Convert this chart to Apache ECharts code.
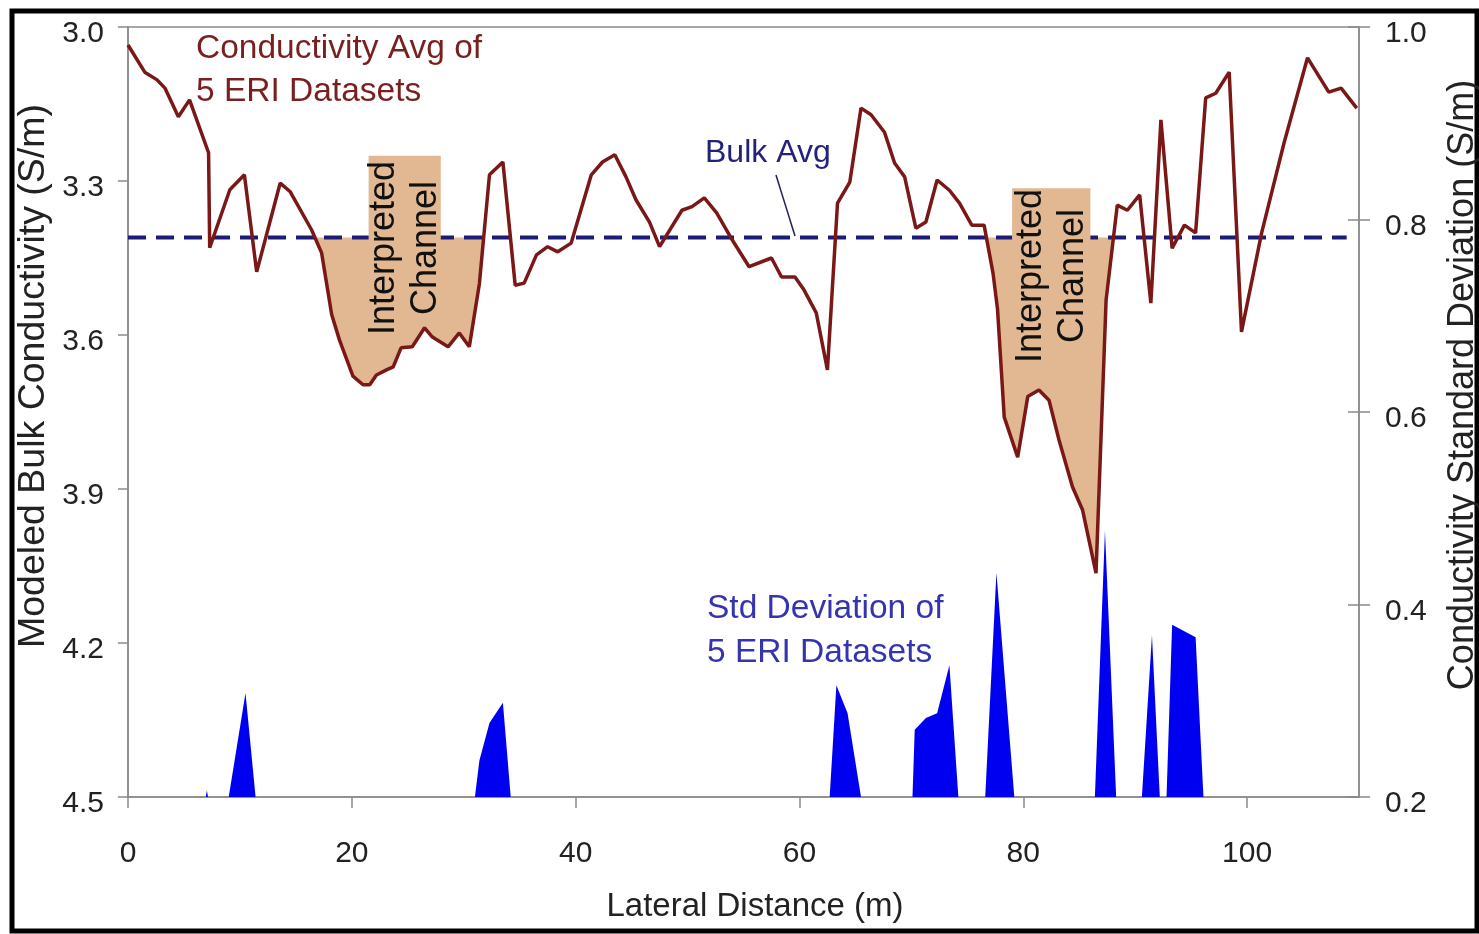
<!DOCTYPE html>
<html>
<head>
<meta charset="utf-8">
<script src="https://cdn.jsdelivr.net/npm/echarts@6/dist/echarts.min.js"></script>
<style>
html,body{margin:0;padding:0;background:#fff}
#main{width:1479px;height:934px}
</style>
</head>
<body>
<div id="main"></div>
<script>
var chart = echarts.init(document.getElementById('main'));

// lateral distance (m) and the averaged conductivity of the 5 ERI datasets
var distX = [0, 1.5, 2.6, 3.3, 4.5, 5.5, 7.2, 7.3, 9.1, 10.4, 11.5, 13.6, 14.5, 16.4, 17.3, 18.2, 18.9, 20.1, 21.0, 21.6,
  22.2, 23.1, 23.7, 24.4, 25.4, 26.5, 27.2, 28.6, 29.6, 30.5, 31.4, 32.3, 33.5, 34.6, 35.4, 36.5, 37.5, 38.4, 39.6, 40.4,
  41.4, 42.4, 43.5, 44.5, 45.4, 46.6, 47.5, 49.5, 50.4, 51.5, 52.6, 54.0, 55.5, 57.5, 58.4, 59.6, 60.4, 61.5, 62.5, 63.4,
  64.5, 65.5, 66.4, 67.6, 68.5, 69.4, 70.4, 71.3, 72.3, 73.4, 74.3, 75.4, 76.5, 77.3, 77.7, 78.3, 79.5, 80.4, 81.4, 82.3,
  83.2, 84.4, 85.3, 86.5, 87.4, 88.4, 89.3, 90.4, 91.4, 92.3, 93.3, 94.4, 95.4, 96.3, 97.2, 98.4, 99.5, 101.3, 103.3, 105.4,
  107.3, 108.4, 109.8];
var condAvg = [3.035, 3.088, 3.103, 3.119, 3.175, 3.142, 3.245, 3.430, 3.317, 3.288, 3.477, 3.304, 3.321, 3.395, 3.44, 3.56, 3.61, 3.68, 3.697, 3.697,
  3.678, 3.668, 3.662, 3.625, 3.623, 3.586, 3.604, 3.623, 3.596, 3.623, 3.50, 3.288, 3.263, 3.503, 3.499, 3.444, 3.428, 3.438, 3.421, 3.362,
  3.288, 3.263, 3.249, 3.292, 3.337, 3.38, 3.428, 3.357, 3.35, 3.333, 3.362, 3.415, 3.467, 3.45, 3.487, 3.487, 3.512, 3.557, 3.668, 3.343,
  3.302, 3.158, 3.171, 3.205, 3.265, 3.292, 3.392, 3.38, 3.298, 3.318, 3.343, 3.386, 3.386, 3.48, 3.55, 3.76, 3.838, 3.72, 3.707, 3.727,
  3.805, 3.896, 3.941, 4.064, 3.532, 3.347, 3.357, 3.327, 3.538, 3.181, 3.431, 3.386, 3.401, 3.138, 3.129, 3.088, 3.594, 3.401, 3.226, 3.06,
  3.127, 3.119, 3.158];

// std deviation, null = below 0.2 (off the axis)
var stdX = [6.95, 7.05, 7.15, 8, 9.0, 10.5, 11.4, 20, 31.0, 31.4, 32.3, 33.5, 34.2, 50, 62.7, 63.3, 64.3, 65.5, 68,
  70.1, 70.3, 71.3, 72.3, 73.4, 74.2, 75.5, 76.6, 77.6, 79.2, 83, 86.4, 87.3, 88.3, 89.5, 90.6, 91.5, 92.2, 92.5,
  92.8, 93.3, 95.4, 96.1];
var stdDev = [0.2, 0.207, 0.2, null, 0.2, 0.308, 0.2, null, 0.2, 0.238, 0.277, 0.298, 0.2, null, 0.2, 0.316, 0.287, 0.2, null,
  0.2, 0.27, 0.282, 0.287, 0.337, 0.2, null, 0.2, 0.433, 0.2, null, 0.2, 0.477, 0.2, null, 0.2, 0.368, 0.2, null,
  0.2, 0.379, 0.366, 0.2];

var bulkAvg = 3.41;
var bulkSpan = [0, 108.9];
var channelSpans = [[15, 33], [76, 89]];
var xTickValues = [0, 20, 40, 60, 80, 100];

var FONT = '"Liberation Sans", Arial, Helvetica, sans-serif';
var TAN = '#e2b892';
var AXIS = '#8a8a8a';

var curve = distX.map(function (x, i) { return [x, condAvg[i]]; });
var stdData = stdX.map(function (x, i) { return [x, stdDev[i] == null ? '-' : stdDev[i]]; });

// part of the curve lying below the bulk average inside a channel span
function channelPart(span) {
  var out = [];
  for (var i = 0; i < curve.length; i++) {
    var p = curve[i];
    if (p[0] < span[0] || p[0] > span[1]) continue;
    var q = curve[i - 1];
    if (q && q[0] >= span[0] - 5 && (q[1] - bulkAvg) * (p[1] - bulkAvg) < 0) {
      var t = (bulkAvg - q[1]) / (p[1] - q[1]);
      out.push([q[0] + t * (p[0] - q[0]), bulkAvg]);
    }
    if (p[1] >= bulkAvg) out.push(p);
  }
  return out;
}

var fills = channelSpans.map(function (span) {
  return {
    type: 'line', yAxisIndex: 0, z: 1, silent: true,
    data: channelPart(span), symbol: 'none',
    lineStyle: {width: 0},
    areaStyle: {color: TAN, opacity: 1, origin: bulkAvg}
  };
});

var lbl = function (v) { return v.toFixed(1); };

chart.setOption({
  backgroundColor: '#fff',
  animation: false,
  textStyle: {fontFamily: FONT},
  grid: {left: 128, right: 120, top: 27, bottom: 137, show: true, borderColor: AXIS, borderWidth: 1.5, backgroundColor: '#fff'},
  xAxis: {
    type: 'value', min: 0, max: 110, interval: 20,
    axisLine: {show: true, lineStyle: {color: AXIS, width: 1.5}},
    axisTick: {show: true, length: 11, customValues: xTickValues, lineStyle: {color: AXIS, width: 1.5}},
    axisLabel: {customValues: xTickValues, fontSize: 30, color: '#222', margin: 42, fontFamily: FONT},
    splitLine: {show: false}
  },
  yAxis: [
    {
      type: 'value', inverse: true, min: 3.0, max: 4.5, interval: 0.3, position: 'left',
      axisLine: {show: true, lineStyle: {color: AXIS, width: 1.5}},
      axisTick: {show: true, length: 10, lineStyle: {color: AXIS, width: 1.5}},
      axisLabel: {formatter: lbl, fontSize: 30, color: '#222', margin: 24, verticalAlign: 'top', lineHeight: 14, fontFamily: FONT},
      splitLine: {show: false}
    },
    {
      type: 'value', min: 0.2, max: 1.0, interval: 0.2, position: 'right',
      axisLine: {show: true, lineStyle: {color: AXIS, width: 1.5}},
      axisTick: {show: true, length: 11, lineStyle: {color: AXIS, width: 1.5}},
      axisLabel: {formatter: lbl, fontSize: 30, color: '#222', margin: 26, verticalAlign: 'top', lineHeight: 14, fontFamily: FONT},
      splitLine: {show: false}
    },
    {
      // inner half of the crossing ticks on the right axis
      type: 'value', min: 0.2, max: 1.0, interval: 0.2, position: 'right',
      axisLine: {show: false},
      axisTick: {show: true, inside: true, length: 11, lineStyle: {color: AXIS, width: 1.5}},
      axisLabel: {show: false},
      splitLine: {show: false}
    }
  ],
  series: fills.concat([
    {
      type: 'line', yAxisIndex: 0, z: 2, silent: true,
      data: bulkSpan.map(function (x) { return [x, bulkAvg]; }),
      symbol: 'none',
      lineStyle: {color: '#1c1c78', width: 4, type: [18, 10]}
    },
    {
      type: 'custom', yAxisIndex: 0, z: 3, silent: true,
      encode: {x: [0, 1], y: [2, 3]},
      data: [[21.5, 27.95, 3.251, 3.45], [79.0, 86.0, 3.314, 3.45]],
      renderItem: function (params, api) {
        var a = api.coord([api.value(0), api.value(2)]);
        var b = api.coord([api.value(1), api.value(3)]);
        return {type: 'rect', shape: {x: a[0], y: a[1], width: b[0] - a[0], height: b[1] - a[1]}, style: {fill: TAN}};
      }
    },
    {
      type: 'line', yAxisIndex: 1, z: 4, silent: true,
      data: stdData, symbol: 'none', connectNulls: false,
      lineStyle: {width: 0},
      areaStyle: {color: '#0000f0', opacity: 1}
    },
    {
      type: 'line', yAxisIndex: 0, z: 5, silent: true,
      data: curve, symbol: 'none',
      lineStyle: {color: '#7a1818', width: 3.5}
    }
  ]),
  graphic: [
    {type: 'rect', z: 100, shape: {x: 12, y: 11, width: 1465, height: 920}, style: {fill: null, stroke: '#000', lineWidth: 5}},
    {type: 'text', z: 100, x: 196, y: 70, style: {text: 'Conductivity Avg of\n5 ERI Datasets', fontSize: 33.5, lineHeight: 43, fontFamily: FONT, fill: '#7a1f1f', align: 'left', verticalAlign: 'middle'}},
    {type: 'text', z: 100, x: 705, y: 153, style: {text: 'Bulk Avg', fontSize: 32, fontFamily: FONT, fill: '#22227a', align: 'left', verticalAlign: 'middle'}},
    {type: 'line', z: 100, shape: {x1: 776, y1: 175, x2: 795, y2: 236}, style: {stroke: '#22225a', lineWidth: 1.5}},
    {type: 'text', z: 100, x: 707, y: 631, style: {text: 'Std Deviation of\n5 ERI Datasets', fontSize: 33.5, lineHeight: 44, fontFamily: FONT, fill: '#3434b0', align: 'left', verticalAlign: 'middle'}},
    {type: 'text', z: 100, x: 405, y: 248, rotation: Math.PI / 2, style: {text: 'Interpreted\nChannel', fontSize: 36, lineHeight: 42, fontFamily: FONT, fill: '#111', align: 'center', verticalAlign: 'middle'}},
    {type: 'text', z: 100, x: 1052, y: 276, rotation: Math.PI / 2, style: {text: 'Interpreted\nChannel', fontSize: 36, lineHeight: 42, fontFamily: FONT, fill: '#111', align: 'center', verticalAlign: 'middle'}},
    {type: 'text', z: 100, x: 34, y: 376, rotation: Math.PI / 2, style: {text: 'Modeled Bulk Conductivity (S/m)', fontSize: 37.5, fontFamily: FONT, fill: '#222', align: 'center', verticalAlign: 'middle'}},
    {type: 'text', z: 100, x: 1463, y: 385, rotation: Math.PI / 2, style: {text: 'Conductivity Standard Deviation (S/m)', fontSize: 36, fontFamily: FONT, fill: '#222', align: 'center', verticalAlign: 'middle'}},
    {type: 'text', z: 100, x: 755, y: 907, style: {text: 'Lateral Distance (m)', fontSize: 33, fontFamily: FONT, fill: '#222', align: 'center', verticalAlign: 'middle'}}
  ]
});
</script>
</body>
</html>
